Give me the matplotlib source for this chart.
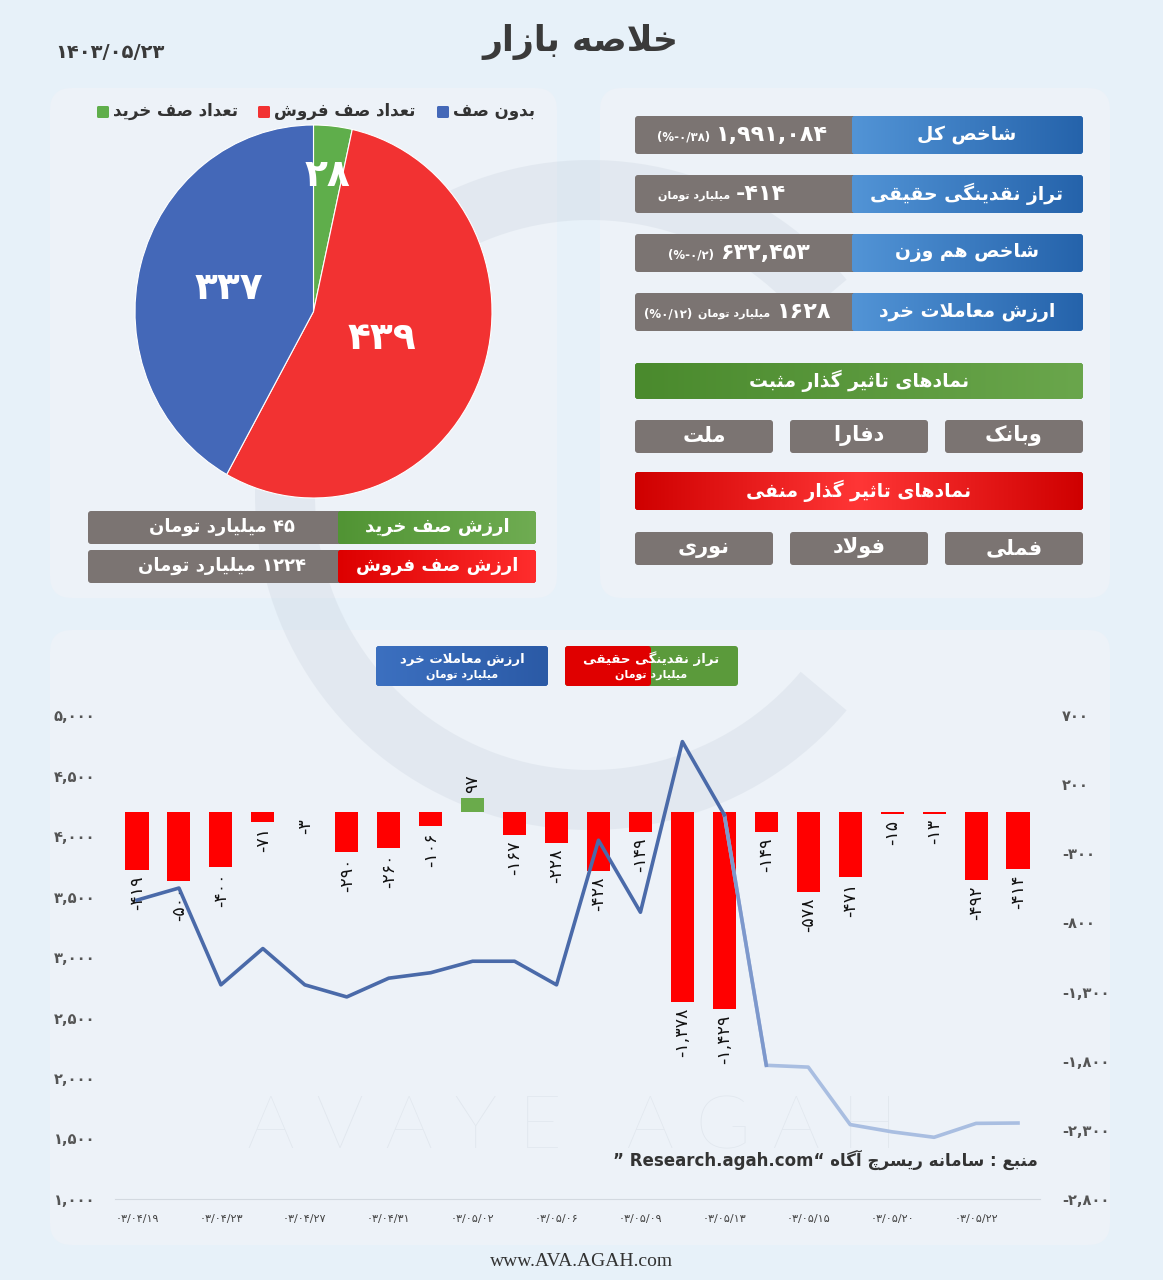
import re
import numpy as np
import matplotlib
matplotlib.use("Agg")
import matplotlib.pyplot as plt
import matplotlib.colors as mcolors
from matplotlib.patches import FancyBboxPatch, Wedge

# ---------------- data ----------------
report_date = "۱۴۰۳/۰۵/۲۳"

dates = ["۰۳/۰۴/۱۹", "۰۳/۰۴/۲۰", "۰۳/۰۴/۲۳", "۰۳/۰۴/۲۴", "۰۳/۰۴/۲۷", "۰۳/۰۴/۳۰",
         "۰۳/۰۴/۳۱", "۰۳/۰۵/۰۱", "۰۳/۰۵/۰۲", "۰۳/۰۵/۰۳", "۰۳/۰۵/۰۶", "۰۳/۰۵/۰۷",
         "۰۳/۰۵/۰۹", "۰۳/۰۵/۱۰", "۰۳/۰۵/۱۳", "۰۳/۰۵/۱۴", "۰۳/۰۵/۱۵", "۰۳/۰۵/۱۶",
         "۰۳/۰۵/۲۰", "۰۳/۰۵/۲۱", "۰۳/۰۵/۲۲", "۰۳/۰۵/۲۳"]
# تراز نقدینگی حقیقی (میلیارد تومان) - right axis
net_flow = [-419, -500, -400, -71, -3, -290, -260, -106, 97, -167, -228, -428,
            -149, -1378, -1429, -149, -578, -471, -15, -13, -492, -414]
# ارزش معاملات خرد (میلیارد تومان) - left axis
retail_value = [3470, 3570, 2770, 3070, 2770, 2670, 2825, 2870, 2965, 2965, 2770, 3965,
                3370, 4780, 4175, 2105, 2090, 1615, 1555, 1510, 1625, 1628]

queue_labels = ["تعداد صف خرید", "تعداد صف فروش", "بدون صف"]
queue_counts = [28, 439, 337]
queue_value_labels = ["ارزش صف خرید", "ارزش صف فروش"]
queue_values = ["۴۵", "۱۲۲۴"]

summary_labels = ["شاخص کل", "تراز نقدینگی حقیقی", "شاخص هم وزن", "ارزش معاملات خرد"]
summary_values = ["۱,۹۹۱,۰۸۴", "-۴۱۴", "۶۳۲,۴۵۳", "۱۶۲۸"]
summary_notes = [["(%-۰/۳۸)"], ["میلیارد تومان"], ["(%-۰/۲)"], ["میلیارد تومان", "(%۰/۱۲)"]]

positive_symbols = ["وبانک", "دفارا", "ملت"]
negative_symbols = ["فملی", "فولاد", "نوری"]

# ---------------- minimal persian shaping ----------------
FORMS = {
    "ء": ("\uFE80", None, None, None),
    "آ": ("\uFE81", "\uFE82", None, None),
    "أ": ("\uFE83", "\uFE84", None, None),
    "ؤ": ("\uFE85", "\uFE86", None, None),
    "إ": ("\uFE87", "\uFE88", None, None),
    "ئ": ("\uFE89", "\uFE8A", "\uFE8B", "\uFE8C"),
    "ا": ("\uFE8D", "\uFE8E", None, None),
    "ب": ("\uFE8F", "\uFE90", "\uFE91", "\uFE92"),
    "ة": ("\uFE93", "\uFE94", None, None),
    "ت": ("\uFE95", "\uFE96", "\uFE97", "\uFE98"),
    "ث": ("\uFE99", "\uFE9A", "\uFE9B", "\uFE9C"),
    "ج": ("\uFE9D", "\uFE9E", "\uFE9F", "\uFEA0"),
    "ح": ("\uFEA1", "\uFEA2", "\uFEA3", "\uFEA4"),
    "خ": ("\uFEA5", "\uFEA6", "\uFEA7", "\uFEA8"),
    "د": ("\uFEA9", "\uFEAA", None, None),
    "ذ": ("\uFEAB", "\uFEAC", None, None),
    "ر": ("\uFEAD", "\uFEAE", None, None),
    "ز": ("\uFEAF", "\uFEB0", None, None),
    "س": ("\uFEB1", "\uFEB2", "\uFEB3", "\uFEB4"),
    "ش": ("\uFEB5", "\uFEB6", "\uFEB7", "\uFEB8"),
    "ص": ("\uFEB9", "\uFEBA", "\uFEBB", "\uFEBC"),
    "ض": ("\uFEBD", "\uFEBE", "\uFEBF", "\uFEC0"),
    "ط": ("\uFEC1", "\uFEC2", "\uFEC3", "\uFEC4"),
    "ظ": ("\uFEC5", "\uFEC6", "\uFEC7", "\uFEC8"),
    "ع": ("\uFEC9", "\uFECA", "\uFECB", "\uFECC"),
    "غ": ("\uFECD", "\uFECE", "\uFECF", "\uFED0"),
    "ف": ("\uFED1", "\uFED2", "\uFED3", "\uFED4"),
    "ق": ("\uFED5", "\uFED6", "\uFED7", "\uFED8"),
    "ك": ("\uFED9", "\uFEDA", "\uFEDB", "\uFEDC"),
    "ل": ("\uFEDD", "\uFEDE", "\uFEDF", "\uFEE0"),
    "م": ("\uFEE1", "\uFEE2", "\uFEE3", "\uFEE4"),
    "ن": ("\uFEE5", "\uFEE6", "\uFEE7", "\uFEE8"),
    "ه": ("\uFEE9", "\uFEEA", "\uFEEB", "\uFEEC"),
    "و": ("\uFEED", "\uFEEE", None, None),
    "ى": ("\uFEEF", "\uFEF0", None, None),
    "ي": ("\uFEF1", "\uFEF2", "\uFEF3", "\uFEF4"),
    "پ": ("\uFB56", "\uFB57", "\uFB58", "\uFB59"),
    "چ": ("\uFB7A", "\uFB7B", "\uFB7C", "\uFB7D"),
    "ژ": ("\uFB8A", "\uFB8B", None, None),
    "ک": ("\uFB8E", "\uFB8F", "\uFB90", "\uFB91"),
    "گ": ("\uFB92", "\uFB93", "\uFB94", "\uFB95"),
    "ی": ("\uFBFC", "\uFBFD", "\uFBFE", "\uFBFF"),
}
LAM_ALEF = {"ا": ("\uFEFB", "\uFEFC"), "آ": ("\uFEF5", "\uFEF6"),
            "أ": ("\uFEF7", "\uFEF8"), "إ": ("\uFEF9", "\uFEFA")}


def joins_left(c):
    return c in FORMS and FORMS[c][2] is not None


def shape(s):
    out = []
    i = 0
    while i < len(s):
        c = s[i]
        if c not in FORMS:
            out.append(c)
            i += 1
            continue
        pj = i > 0 and joins_left(s[i - 1])
        if c == "ل" and i + 1 < len(s) and s[i + 1] in LAM_ALEF:
            iso, fin = LAM_ALEF[s[i + 1]]
            out.append(fin if pj else iso)
            i += 2
            continue
        nj = joins_left(c) and i + 1 < len(s) and s[i + 1] in FORMS
        iso, fin, ini, med = FORMS[c]
        if pj and nj:
            out.append(med)
        elif pj:
            out.append(fin)
        elif nj:
            out.append(ini)
        else:
            out.append(iso)
        i += 1
    return "".join(out)


LTR_RUN = re.compile(r"[0-9۰-۹A-Za-z][0-9۰-۹A-Za-z.,/]*")
MIRROR = str.maketrans("()", ")(")


def rtl(s):
    s = shape(s)
    parts, pos = [], 0
    for m in LTR_RUN.finditer(s):
        if m.start() > pos:
            parts.append(s[pos:m.start()][::-1].translate(MIRROR))
        parts.append(m.group())
        pos = m.end()
    if pos < len(s):
        parts.append(s[pos:][::-1].translate(MIRROR))
    return "".join(parts[::-1])


def is_fa(s):
    return any(c in FORMS for c in s)


def fa_num(v):
    return f"{int(v):,}".translate(str.maketrans("0123456789", "۰۱۲۳۴۵۶۷۸۹"))


# ---------------- figure ----------------
W, H = 1163, 1280
FONT = ["DejaVu Sans"]
plt.rcParams["font.family"] = FONT

fig = plt.figure(figsize=(W / 100, H / 100), dpi=100)
fig.patch.set_facecolor("#e7f1f9")
bg = fig.add_axes([0, 0, 1, 1])
bg.axis("off")
bg.set_xlim(0, W)
bg.set_ylim(H, 0)
bg.set_autoscale_on(False)
renderer = fig.canvas.get_renderer()


def box(x, y, w, h, c1, c2=None, c3=None, r=4, z=2, alpha=1.0):
    p = FancyBboxPatch((x, y), w, h, boxstyle=f"round,pad=0,rounding_size={r}",
                       fc=c1, ec="none", zorder=z, alpha=alpha)
    bg.add_patch(p)
    if c2 is not None:
        cols = [c1, c2] if c3 is None else [c1, c2, c3]
        cmap = mcolors.LinearSegmentedColormap.from_list("g", cols)
        im = bg.imshow(np.linspace(0, 1, 256).reshape(1, -1), extent=(x, x + w, y + h, y),
                       cmap=cmap, aspect="auto", zorder=z + 0.1, interpolation="bilinear")
        im.set_clip_path(p)
    return p


def txt(x, y, s, size, color="white", ha="center", weight="bold", **kw):
    return bg.text(x, y, rtl(s) if is_fa(s) else s, fontsize=size, color=color, ha=ha,
                   va="center", fontweight=weight, zorder=10, **kw)


def left_edge(t):
    bb = t.get_window_extent(renderer)
    return bg.transData.inverted().transform((bb.x0, bb.y0))[0]


# panels
box(50, 88, 507, 510, "#edf2f8", r=22, z=1)
box(600, 88, 510, 510, "#edf2f8", r=22, z=1)
box(50, 630, 1060, 615, "#edf2f8", r=22, z=1)

# watermark ring and text
bg.add_patch(Wedge((590, 495), 335, 40, 320, width=60, fc="#c3cdd9", ec="none",
                   alpha=0.25, zorder=1.5))
bg.text(572, 1128, "A V A Y E   A G A H", fontsize=54, color="#e1e7ee", ha="center",
        va="center", family=["Lato", "DejaVu Sans"], fontweight="light", zorder=1.6)

# header
txt(580, 42, "خلاصه بازار", 25, color="#3a3a3a")
txt(55, 52, report_date, 14, color="#3a3a3a", ha="left")
bg.text(582, 1262, "www.AVA.AGAH.com", fontsize=14, color="#333333", ha="center",
        va="center", family=["Liberation Serif"])

# ---------------- summary table (top right) ----------------
row_y = [116, 175, 234, 293]
value_right = [828, 786, 810, 831]
for k, yy in enumerate(row_y):
    box(635, yy, 235, 38, "#7b7472", r=3)
    box(852, yy, 231, 38, "#5294d6", "#2563ab", r=3, z=2.5)
    txt(967, yy + 19, summary_labels[k], 13.5)
    t = txt(value_right[k], yy + 19, summary_values[k], 16, ha="right")
    edge = left_edge(t)
    for note in summary_notes[k]:
        size = 8 if is_fa(note) else 8.5
        t = txt(edge - 6, yy + 21, note, size, ha="right")
        edge = left_edge(t)

box(635, 363, 448, 36, "#4a8a2d", "#6aa64c", r=3)
txt(859, 381, "نمادهای تاثیر گذار مثبت", 13.5)
box(635, 472, 448, 38, "#cf0000", "#ff3636", "#cf0000", r=3)
txt(859, 491, "نمادهای تاثیر گذار منفی", 13.5)
sym_x = [945, 790, 635]
for k in range(3):
    box(sym_x[k], 420, 138, 33, "#7b7472", r=3)
    txt(sym_x[k] + 69, 436, positive_symbols[k], 15)
    box(sym_x[k], 532, 138, 33, "#7b7472", r=3)
    txt(sym_x[k] + 69, 548, negative_symbols[k], 15)

# ---------------- queue pie (top left) ----------------
pie_colors = ["#5fae4b", "#f23232", "#4468b8"]
leg_sq = [97, 258, 437]
for k in range(3):
    bg.add_patch(FancyBboxPatch((leg_sq[k], 106), 12, 12, boxstyle="round,pad=0,rounding_size=1.5",
                                fc=pie_colors[k], ec="none", zorder=5))
    txt(leg_sq[k] + 16, 111, queue_labels[k], 12, color="#333333", ha="left")

pax = fig.add_axes([135 / W, 1 - 498 / H, 357 / W, 373 / H])
wedges, _ = pax.pie(queue_counts, colors=pie_colors, startangle=90, counterclock=False,
                    wedgeprops=dict(edgecolor="white", linewidth=0.8))
pax.set_aspect("auto")
pax.set_xlim(-1, 1)
pax.set_ylim(-1, 1)
label_r = [0.73, 0.41, 0.49]
for w, n, r in zip(wedges, queue_counts, label_r):
    a = np.deg2rad((w.theta1 + w.theta2) / 2)
    pax.text(r * np.cos(a), r * np.sin(a), fa_num(n), fontsize=27, color="white",
             fontweight="bold", ha="center", va="center")

box(88, 511, 260, 33, "#7b7472", r=3)
box(338, 511, 198, 33, "#519434", "#6fac52", r=3, z=2.5)
box(88, 550, 260, 33, "#7b7472", r=3)
box(338, 550, 198, 33, "#dd0000", "#ff2d2d", r=3, z=2.5)
txt(437, 527, queue_value_labels[0], 13)
txt(437, 566, queue_value_labels[1], 13)
for k, yy in enumerate([527, 566]):
    txt(222, yy, queue_values[k] + " میلیارد تومان", 13)

# ---------------- combo chart (bottom) ----------------
box(376, 646, 172, 40, "#3c70c0", "#2b5aa6", r=3)
txt(462, 659, "ارزش معاملات خرد", 9.5)
txt(462, 675, "میلیارد تومان", 8)
box(565, 646, 173, 40, "#5b9a3b", r=3)
box(565, 646, 86, 40, "#e00000", r=3, z=2.2)
txt(651, 659, "تراز نقدینگی حقیقی", 9.5)
txt(651, 675, "میلیارد تومان", 8)

ax = fig.add_axes([115 / W, 1 - 1199 / H, (1040 - 115) / W, (1199 - 715) / H])
ax.patch.set_alpha(0)
x = np.arange(1, len(dates) + 1)
bar_colors = ["#6aab4b" if v > 0 else "#ff0000" for v in net_flow]
ax.bar(x, net_flow, width=0.55, color=bar_colors, zorder=2)
ax.set_xlim(1 - 22 / 41.95, 22 + 22 / 41.95)
ax.set_ylim(-2800, 700)
for xi, v in zip(x, net_flow):
    off = 4 if v > 0 else -4
    ax.annotate(fa_num(v), (xi, v), xytext=(0, off), textcoords="offset points",
                rotation=90, ha="center", va="bottom" if v > 0 else "top",
                fontsize=12.5, color="#111111", zorder=4)

ax2 = ax.twinx()
ax2.patch.set_alpha(0)
ax2.set_ylim(1000, 5000)
ax2.plot(x[14:], retail_value[14:], color="#a9bee1", lw=2.6, solid_joinstyle="round", zorder=3)
ax2.plot(x[14:16], retail_value[14:16], color="#7d98cc", lw=2.6, zorder=3)
ax2.plot(x[:15], retail_value[:15], color="#4a6aa9", lw=2.6, solid_joinstyle="round", zorder=3)

# bars' axis on the right, line's axis on the left
ax.yaxis.tick_right()
ax2.yaxis.tick_left()
right_ticks = np.arange(-2800, 701, 500)
left_ticks = np.arange(1000, 5001, 500)
ax.set_yticks(right_ticks)
ax.set_yticklabels([fa_num(v) for v in right_ticks])
ax2.set_yticks(left_ticks)
ax2.set_yticklabels([fa_num(v) for v in left_ticks])

ax.set_xticks(x[::2])
ax.set_xticklabels(dates[::2])
for a in (ax, ax2):
    for s in a.spines.values():
        s.set_visible(False)
ax.spines["bottom"].set_visible(True)
ax.spines["bottom"].set_color("#d3d9e0")
ax.tick_params(axis="x", length=0, pad=11, labelsize=8, labelcolor="#444444")
ax.tick_params(axis="y", length=0, pad=16, labelsize=10.5, labelcolor="#555555")
ax2.tick_params(axis="y", length=0, pad=14, labelsize=10.5, labelcolor="#555555")
for lab in ax.get_yticklabels() + ax2.get_yticklabels():
    lab.set_fontweight("bold")

src = "” Research.agah.com“ " + rtl("منبع : سامانه ریسرچ آگاه")
bg.text(1038, 1160, src, fontsize=12, color="#333333", ha="right", va="center",
        fontweight="bold", zorder=10)

fig.savefig("out.png", dpi=100, facecolor=fig.get_facecolor())
